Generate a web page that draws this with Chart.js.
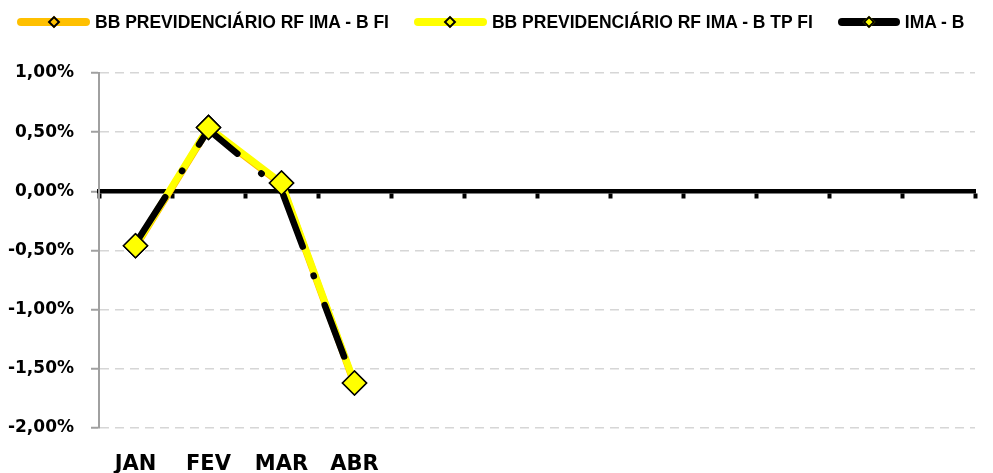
<!DOCTYPE html>
<html lang="pt-BR">
<head>
<meta charset="utf-8">
<title>Rentabilidade mensal - IMA-B</title>
<script src="https://cdn.jsdelivr.net/npm/chart.js@4.4.1/dist/chart.umd.min.js"></script>
<style>
    html, body { margin: 0; padding: 0; background: #ffffff; }
    .wrap { position: relative; width: 993px; height: 473px; }
    .legend {
        position: absolute; top: 0; left: 0; height: 44px;
        display: flex; align-items: center; padding-left: 17px;
        font: bold 17.5px "Liberation Sans", Arial, sans-serif; color: #000;
        white-space: nowrap;
    }
    .legend .item { display: flex; align-items: center; margin-right: 25px; }
    .legend .swatch { position: relative; width: 73px; height: 8px; border-radius: 4px; margin-right: 5px; }
    .legend .swatch i {
        position: absolute; left: 50%; top: 50%; width: 9px; height: 9px;
        box-sizing: border-box; border: 2px solid #000;
        transform: translate(-50%, -50%) rotate(45deg);
    }
</style>
</head>
<body>
<div class="wrap">
    <canvas id="ima-b-chart" width="993" height="473"></canvas>
    <div class="legend" id="legend"></div>
</div>
<script>
const categories = ['JAN', 'FEV', 'MAR', 'ABR', '', '', '', '', '', '', '', ''];
const seriesNames = ['BB PREVIDENCIÁRIO RF IMA - B FI', 'BB PREVIDENCIÁRIO RF IMA - B TP FI', 'IMA - B'];
const bbImaBFi = [-0.47, 0.53, 0.06, -1.63];
const bbImaBTpFi = [-0.46, 0.54, 0.07, -1.62];
const imaB = [-0.44, 0.52, 0.01, -1.63];
const yMin = -2;
const yMax = 1;
const yStep = 0.5;

const ORANGE = '#ffc000';
const YELLOW = '#ffff00';
const BLACK = '#000000';

function formatPercent(value) {
    return `${Number(value).toFixed(2).replace('.', ',')}%`;
}

// legend drawn as html: line sample with a small diamond, like the excel original
function buildLegend() {
    const el = document.getElementById('legend');
    const swatches = [
        { line: ORANGE, marker: ORANGE, width: 73 },
        { line: YELLOW, marker: YELLOW, width: 73 },
        { line: BLACK, marker: YELLOW, width: 62 },
    ];
    seriesNames.forEach((name, i) => {
        const item = document.createElement('div');
        item.className = 'item';
        const sw = document.createElement('span');
        sw.className = 'swatch';
        sw.style.background = swatches[i].line;
        sw.style.width = swatches[i].width + 'px';
        const mk = document.createElement('i');
        mk.style.background = swatches[i].marker;
        sw.appendChild(mk);
        const label = document.createElement('span');
        label.textContent = name;
        item.appendChild(sw);
        item.appendChild(label);
        el.appendChild(item);
    });
}

// keep the yellow diamonds above the black dashed line
const markersOnTop = {
    id: 'markersOnTop',
    afterDatasetsDraw(chart) {
        const meta = chart.getDatasetMeta(1);
        meta.data.forEach((pt) => pt.draw(chart.ctx, chart.chartArea));
    },
};

buildLegend();

new Chart(document.getElementById('ima-b-chart'), {
    type: 'line',
    data: {
        labels: categories,
        datasets: [
            {
                label: seriesNames[0],
                data: bbImaBFi,
                borderColor: ORANGE,
                borderWidth: 7,
                borderCapStyle: 'round',
                borderJoinStyle: 'round',
                pointRadius: 0,
                tension: 0,
                order: 3,
            },
            {
                label: seriesNames[1],
                data: bbImaBTpFi,
                borderColor: YELLOW,
                borderWidth: 7,
                borderCapStyle: 'round',
                borderJoinStyle: 'round',
                pointStyle: 'rectRot',
                pointRadius: 12,
                pointBackgroundColor: YELLOW,
                pointBorderColor: BLACK,
                pointBorderWidth: 1.5,
                tension: 0,
                order: 2,
            },
            {
                label: seriesNames[2],
                data: imaB,
                borderColor: BLACK,
                borderWidth: 6.5,
                borderDash: [55, 31, 0.5, 31],
                borderCapStyle: 'round',
                borderJoinStyle: 'round',
                pointRadius: 0,
                tension: 0,
                order: 1,
            },
        ],
    },
    options: {
        responsive: false,
        animation: false,
        events: [],
        layout: { padding: { top: 73, left: 8, right: 18, bottom: 0 } },
        plugins: {
            legend: { display: false },
            tooltip: { enabled: false },
        },
        scales: {
            x: {
                type: 'category',
                offset: true,
                grid: { display: false, drawTicks: false },
                border: { display: false },
                ticks: {
                    padding: 26,
                    maxRotation: 0,
                    autoSkip: false,
                    color: BLACK,
                    font: { family: '"DejaVu Sans", sans-serif', size: 21, weight: 'bold', lineHeight: 1 },
                },
                afterFit: (scale) => { scale.height = 45; },
            },
            zero: {
                type: 'category',
                axis: 'x',
                labels: categories,
                position: { y: 0 },
                offset: true,
                grid: {
                    offset: true,
                    drawOnChartArea: false,
                    drawTicks: true,
                    tickLength: 5,
                    tickColor: BLACK,
                    tickWidth: 4,
                },
                border: { color: BLACK, width: 4.5 },
                ticks: { display: false },
            },
            y: {
                min: yMin,
                max: yMax,
                ticks: {
                    stepSize: yStep,
                    padding: 17,
                    color: BLACK,
                    font: { family: '"DejaVu Sans", sans-serif', size: 17, weight: 'bold' },
                    callback: (value) => formatPercent(value),
                },
                grid: {
                    color: '#d6d6d6',
                    lineWidth: 1.5,
                    tickLength: 8,
                    tickColor: '#a0a0a0',
                    tickWidth: 2,
                },
                border: { color: '#a0a0a0', width: 2, dash: [9, 6] },
                afterFit: (scale) => { scale.width = 91; },
            },
        },
    },
    plugins: [markersOnTop],
});
</script>
</body>
</html>
